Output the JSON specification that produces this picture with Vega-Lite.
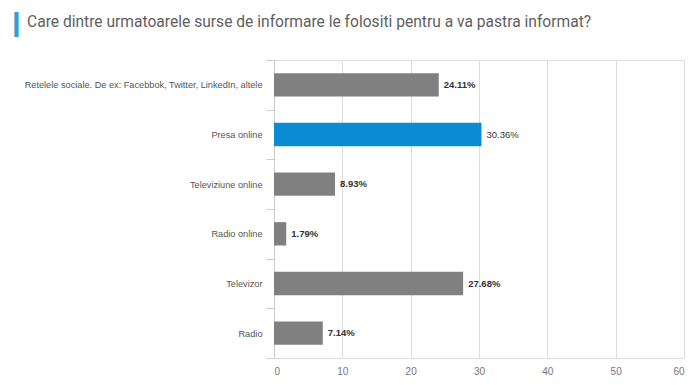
{
  "$schema": "https://vega.github.io/schema/vega-lite/v6.json",
  "width": 410,
  "height": 298,
  "autosize": {"type": "none"},
  "padding": {"left": 274, "top": 60, "right": 16, "bottom": 27},
  "background": "white",
  "title": {
    "text": "Care dintre urmatoarele surse de informare le folositi pentru a va pastra informat?",
    "color": "#606060",
    "font": "Roboto",
    "fontSize": 15.6,
    "fontWeight": "normal",
    "anchor": "start",
    "frame": "group",
    "baseline": "alphabetic",
    "offset": 0,
    "dx": -247,
    "dy": 29
  },
  "data": {
    "values": [
      {"sursa": "Retelele sociale. De ex: Facebbok, Twitter, LinkedIn, altele", "procent": 24.11, "hl": false},
      {"sursa": "Presa online", "procent": 30.36, "hl": true},
      {"sursa": "Televiziune online", "procent": 8.93, "hl": false},
      {"sursa": "Radio online", "procent": 1.79, "hl": false},
      {"sursa": "Televizor", "procent": 27.68, "hl": false},
      {"sursa": "Radio", "procent": 7.14, "hl": false}
    ]
  },
  "transform": [{"calculate": "format(datum.procent, '.2f') + '%'", "as": "eticheta"}],
  "encoding": {
    "y": {
      "field": "sursa",
      "type": "nominal",
      "sort": null,
      "scale": {"paddingInner": 0, "paddingOuter": 0},
      "axis": {
        "title": "▎",
        "titleColor": "#2f9fd3",
        "titleFont": "DejaVu Sans",
        "titleFontSize": 21,
        "titleFontWeight": "normal",
        "titleAngle": 0,
        "titleAlign": "left",
        "titleBaseline": "alphabetic",
        "titleX": -260,
        "titleY": -29,
        "tickBand": "extent",
        "domainColor": "#cccccc",
        "tickColor": "#cccccc",
        "tickSize": 8,
        "labelPadding": 4,
        "labelFont": "Liberation Sans",
        "labelFontSize": 9.2,
        "labelColor": "#555555",
        "labelLimit": 400,
        "grid": false
      }
    },
    "x": {
      "field": "procent",
      "type": "quantitative",
      "scale": {"domain": [0, 60], "nice": false},
      "axis": {
        "title": null,
        "values": [0, 10, 20, 30, 40, 50, 60],
        "domain": false,
        "ticks": false,
        "labelPadding": 8,
        "gridColor": "#dddddd",
        "labelFont": "Liberation Sans",
        "labelFontSize": 10,
        "labelColor": "#777777"
      }
    }
  },
  "layer": [
    {
      "mark": {"type": "bar", "height": {"band": 0.47}},
      "encoding": {
        "color": {
          "field": "hl",
          "type": "nominal",
          "scale": {"domain": [false, true], "range": ["#808080", "#0a8bd2"]},
          "legend": null
        }
      }
    },
    {
      "transform": [{"filter": "!datum.hl"}],
      "mark": {"type": "text", "align": "left", "dx": 5, "font": "Liberation Sans", "fontSize": 9.5, "fontWeight": "bold", "color": "#333333"},
      "encoding": {"text": {"field": "eticheta", "type": "nominal"}}
    },
    {
      "transform": [{"filter": "datum.hl"}],
      "mark": {"type": "text", "align": "left", "dx": 5, "font": "Liberation Sans", "fontSize": 9.5, "fontWeight": "normal", "color": "#333333"},
      "encoding": {"text": {"field": "eticheta", "type": "nominal"}}
    }
  ]
}
